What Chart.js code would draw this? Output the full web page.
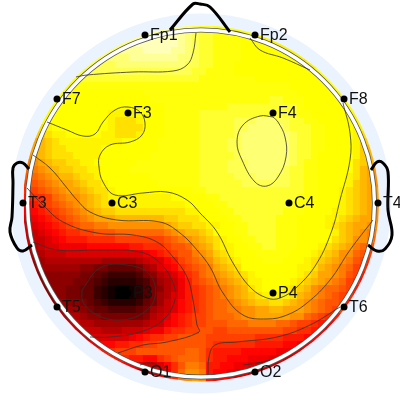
<!DOCTYPE html>
<html>
<head>
<meta charset="utf-8">
<style>
  html, body { margin: 0; padding: 0; background: #fff; }
  canvas { display: block; }
</style>
<script src="https://cdn.jsdelivr.net/npm/chart.js@4"></script>
</head>
<body>
<canvas id="map" width="400" height="400"></canvas>
<script>
// Scalp map values, one row per grid line, top to bottom, each char a level 0-z (base 36)
const heatRows = [
  'wwwww wwwww wwwww wwwww wwwvu ttssr rrrrr rrrrr rrrrr rrrrr r',
  'wwwww wwwww wwwww wwxxx xxwvu ttsss rrqpp ppppp ppppp ppppp p',
  'vvvvv vvvvv vvvvv wxxxx xxwvu ttsss srrqq ppppp ppppp ppppp p',
  'vvvvv vvvvv vvvvw wwxxx xwwvu ttsss srrrq qqppo ooooo ooooo o',
  'uuuuu uuuuu uvvvv wwwww wwvvu ttsss srrrr qqqqp ooooo ooooo o',
  'uuuuu uuuuu uuuvv vvvvv vvvuu ttsss rrrrr rrqqq pppoo ooooo o',
  'ttttt ttttu uuuuu uuuuu uuuut tssss rrrrr rrrrr qqqpp ppppp p',
  'ttttt ssstt ttttt ttttt ttttt sssss sssrr rrrrr rrqqp ppppp p',
  'rrrrr rrsss sssss sssss sssss sssss sssss sssrr rrrqq qpppp p',
  'qqqqq qrrrr rrrrr rrsss sssss sssss sssss ssssr rrrqq ppppp p',
  'qqqqq qqrrr rrrrr rrrss sssss sssss sssss ttsss rrrqq qpppp p',
  'rrrrr rrrrr rrqqq qrrrr sssss sssst ttttt tttts rrrqq qqppp p',
  'rrrrr rrrrr qqppp pqrrr sssss ttttt ttttt tttts srrrr qqppp p',
  'qqqqq qqrrr rqpoo opqrr sssss ttttt uuuvv vuutt ssrrr rqppp p',
  'ooopq qqrrr rqpoo ooqrr sssss ttttt uuvvv vvutt tssrr rqppp p',
  'nnnop pqqqq qppoo opqrr sssss ttttt uvvvv vvvut tssrr rqpoo o',
  'llmno ppppp ppppq qqrrs sssss ttttu uvvvv vvvut tssrr rqpnn n',
  'klmno opppp pqqrr rrrrs sssss ttttu uvvvv vvvut tssrr rqpnm m',
  'klmno ooppp pqrrr rrrss sssss ttttt uvvvv vvvut tsrrr qqpnm l',
  'jklmn noopp qqrrr rssss sssss ttttu uuvvv vvvut ssrrr qqonm l',
  'ijklm nnoop pqrrr sssss sssss ttttu uuvvv vvutt ssrrr qqoml k',
  'hijkl mmnoo pqrrr rrrss sssss ttttt uuuvv vuutt ssrrr qpoml k',
  'ghijk llmno opqrr rrrrs sssss ttttt tuuuu uuutt ssrrq qpnml k',
  'fghij kllmn oopqq qqqrr rrrrs stttt ttttt ttttt ssrrq ponml l',
  'effgi jkklm noppp ppppp pqqqr rsstt ttttt tttts ssrqq ponml l',
  'defgh ijklm noopp ppppp pppqq rrsst ttttt tttss srrqq ponml k',
  'cdefg hijkl mnnoo ooooo ooopp qrrss ttttt ttsss rrqqp ponml k',
  'bcdef ghijk lllmm mmmmm nnooo pqqrs stttt tsssr rqqpp onmll k',
  'bbcde fghii jjkkk kkkkk lmnno oppqr ssttt tsssr rqqpo nmllk k',
  'aabcd effgg hhhii iiiii jklmm noqqr ssttt tsssr rrqqp nmlkj j',
  'aaabc deeef fffgg ggggg hijkl mnopq rsstt tsssr rrqqo nmkkj i',
  '99abb ccccd ddddd eefff ghhik lmopp qrsst tsssr rqpon mljih g',
  '899aa abbbb bbbbb bbcde fghhj klnop qqrss sssrr qponm kkihg f',
  '88899 99999 98888 89abb deghi jkmno pqrrs ssrrq ponml kjhgf e',
  '78888 88877 66555 5689b cdfgh ijlmn oqqrr rrrqp pomlk jigfe d',
  '77777 77766 54333 34679 abdfg ijklm nopqq rrqqp onllk jhged c',
  '77777 77665 43222 23468 9aceg hijkl mnppq qqqpo nmlkj igfdc b',
  '77777 76655 32100 12467 9acef ghijk lmopq qqpon mkjii hgedb a',
  '77777 76655 32100 12468 9bcef ghijk lmnop pppom lkjih gfecb a',
  '77777 87765 43222 23568 abdef ghiij klmnn oonml kjihh gedba a',
  '88888 88876 55444 45689 abdef ghiij jkkll mmlll kjihg gecba a',
  '88889 99987 76666 6679a bdefg ghiii jkkll lllkk ihgfe edcba a',
  '99999 aaa99 88888 889aa cdefg ghhhi iijjj jiihg gfedd cbaaa a',
  'aaaaa aaaaa a999a aabcc effgg hhggh hhhhh hhggf fedcc baaaa a',
  'bbbbb bbbbb bbbbb cdeff gghhh hgggg gggff ffeee ddccb aaaaa a',
  'ccccc ccccc cddee ffggh hhhhh hgfff fffee eeddc ccbbb aaaaa a',
  'eeeee eeeee eefgg ghhhh hhhii hfeee edddd dccbb bbbbb aaaaa a',
  'eeeee eeeee eeeef eeddf ghiii hfeed ddccc bbaaa aaaaa aaaaa a',
  'ddddd ddddd ddddd cbaab dfhjj ieedd ccbaa aaaaa aaaaa aaaaa a',
  'ccccc ccccc ccccc 9889a cfikk jeddc bb998 88888 88888 88888 8',
  'ccccc ccccc ccccc ccccc cfjkl keddc aaaaa aaaaa aaaaa aaaaa a'
];

// Electrodes
const electrodeNames = ['Fp1', 'Fp2', 'F7', 'F3', 'F4', 'F8', 'T3', 'C3', 'C4', 'T4', 'T5', 'P3', 'P4', 'T6', 'O1', 'O2'];
const electrodeX = [-55, 55, -143, -72, 73, 144, -177, -88, 89, 178, -143, -72, 73, 144, -55, 55];
const electrodeY = [165, 165, 101, 87, 87, 101, -3, -3, -3, -3, -107, -93, -93, -107, -172, -172];

// Contour lines, [x, y] pairs on the same axes
const contourFp1 = [[-124,123],[-113,125],[-67,128],[-27,129],[-13,135],[-7,147],[-4,167]];
const contourFp2 = [[50,162],[60,150],[83,142],[110,130]];
const contourF4 = [[73,83],[60,84],[43,75],[37,58],[42,40],[55,18],[67,14],[78,23],[86,43],[85,63],[78,78],[73,83]];
const contourYellow = [[-153,78],[-133,70],[-117,64],[-105,66],[-97,78],[-85,90],[-72,93],[-60,88],[-55,77],[-58,65],[-70,58],[-90,55],[-100,45],[-101,33],[-97,18],[-85,5],[-57,7],[-33,8],[-13,0],[0,-13],[17,-32],[33,-63],[50,-87],[67,-98],[80,-98],[97,-87],[117,-63],[132,-30],[140,0],[150,40],[150,67],[143,97]];
const contourOrange = [[-167,45],[-150,32],[-133,12],[-123,0],[-110,-12],[-83,-20],[-40,-22],[-20,-33],[-3,-50],[10,-67],[23,-93],[43,-115],[67,-119],[87,-115],[107,-103],[130,-80],[150,-50],[173,-20]];
const contourRed = [[-173,12],[-157,-5],[-137,-22],[-103,-33],[-67,-35],[-43,-42],[-27,-57],[-13,-77],[-7,-100],[-3,-125],[-1,-132],[-33,-142],[-57,-145],[-82,-153]];
const contourRedRight = [[8,-175],[9,-157],[15,-145],[37,-142],[77,-137],[110,-125],[140,-107]];
const contourDark = [[-167,-42],[-143,-50],[-100,-50],[-60,-52],[-40,-63],[-27,-83],[-25,-100],[-37,-120],[-60,-132],[-90,-137],[-110,-137]];
const contourP3 = [[-118,-90],[-100,-68],[-73,-65],[-50,-75],[-45,-97],[-57,-113],[-80,-120],[-103,-115],[-117,-102],[-118,-90]];
const contourO1 = [[-60,-165],[-53,-163],[-45,-164],[-40,-167]];
const contourO2 = [[43,-165],[57,-163],[70,-160]];
const contours = [contourFp1, contourFp2, contourF4, contourYellow, contourOrange, contourRed, contourRedRight, contourDark, contourP3, contourO1, contourO2];

// Head drawing
const noseLine = [[-30,170],[-7,196],[0,196],[10,193],[30,168]];
const leftEar = [[-171,31],[-177,37],[-183,37],[-187,32],[-187,17],[-188,-17],[-190,-32],[-183,-48],[-177,-51],[-168,-45]];
const rightEar = [[171,30],[177,38],[183,37],[188,28],[188,-10],[192,-35],[185,-49],[177,-51],[168,-45]];

const gridStep = 7;
const gridLeft = -172.5;
const gridTop = 170.5;
const headX = 1;
const headY = -3.5;

// hot colormap, blue held back a little so the middle stays yellow
function levelColor(level) {
  const t = level / 35;
  const r = Math.min(1, t / 0.365);
  const g = Math.max(0, Math.min(1, (t - 0.365) / 0.365));
  const b = Math.max(0, (t - 0.79) / 0.21);
  return `rgb(${Math.round(r * 255)},${Math.round(g * 255)},${Math.round(b * 255)})`;
}

const heatPoints = [];
const heatColors = [];
heatRows.forEach((row, j) => {
  row.replace(/ /g, '').split('').forEach((ch, i) => {
    heatPoints.push({ x: gridLeft + i * gridStep, y: gridTop - j * gridStep });
    heatColors.push(levelColor(parseInt(ch, 36)));
  });
});

function toPoints(pairs) {
  return pairs.map(p => ({ x: p[0], y: p[1] }));
}

function lineSet(pairs, color, width, order) {
  return {
    data: toPoints(pairs),
    showLine: true,
    borderColor: color,
    borderWidth: width,
    pointRadius: 0,
    tension: 0.4,
    clip: false,
    order: order
  };
}

function circlePath(chart, r) {
  const sx = chart.scales.x, sy = chart.scales.y;
  const cx = sx.getPixelForValue(headX), cy = sy.getPixelForValue(headY);
  const rr = sx.getPixelForValue(r) - sx.getPixelForValue(0);
  chart.ctx.beginPath();
  chart.ctx.arc(cx, cy, rr, 0, Math.PI * 2);
}

const headPlugin = {
  id: 'head',
  beforeDatasetsDraw(chart) {
    circlePath(chart, 190);
    chart.ctx.fillStyle = '#eaf3fe';
    chart.ctx.fill();
  },
  beforeDatasetDraw(chart, args) {
    if (args.index === 0) {
      chart.ctx.save();
      circlePath(chart, 178);
      chart.ctx.clip();
    }
  },
  afterDatasetDraw(chart, args) {
    if (args.index === 0) {
      const ctx = chart.ctx;
      ctx.restore();
      circlePath(chart, 173.5);
      ctx.strokeStyle = '#555';
      ctx.lineWidth = 5;
      ctx.stroke();
      circlePath(chart, 173.5);
      ctx.strokeStyle = '#fff';
      ctx.lineWidth = 3.4;
      ctx.stroke();
    }
  },
  afterDatasetsDraw(chart) {
    const ctx = chart.ctx;
    ctx.fillStyle = '#111';
    ctx.font = '16px "Liberation Sans"';
    ctx.textBaseline = 'middle';
    electrodeNames.forEach((name, i) => {
      ctx.fillText(name, chart.scales.x.getPixelForValue(electrodeX[i]) + 5, chart.scales.y.getPixelForValue(electrodeY[i]) + 1);
    });
  }
};

new Chart(document.getElementById('map'), {
  type: 'scatter',
  data: {
    datasets: [
      {
        data: heatPoints,
        pointStyle: 'rect',
        pointRadius: 5.1,
        pointBorderWidth: 0,
        pointBackgroundColor: heatColors,
        order: 10
      },
      ...contours.map(c => lineSet(c, 'rgba(50,50,50,0.8)', 1, 5)),
      lineSet(noseLine, '#000', 3, 3),
      lineSet(leftEar, '#000', 3, 3),
      lineSet(rightEar, '#000', 3, 3),
      {
        data: electrodeX.map((x, i) => ({ x: x, y: electrodeY[i] })),
        pointRadius: 3.5,
        pointBackgroundColor: '#000',
        pointBorderWidth: 0,
        clip: false,
        order: 1
      }
    ]
  },
  options: {
    responsive: false,
    animation: false,
    layout: { padding: 0, autoPadding: false },
    plugins: {
      legend: { display: false },
      tooltip: { enabled: false }
    },
    scales: {
      x: { type: 'linear', min: -200, max: 200, display: false },
      y: { type: 'linear', min: -200, max: 200, display: false }
    }
  },
  plugins: [headPlugin]
});
</script>
</body>
</html>
